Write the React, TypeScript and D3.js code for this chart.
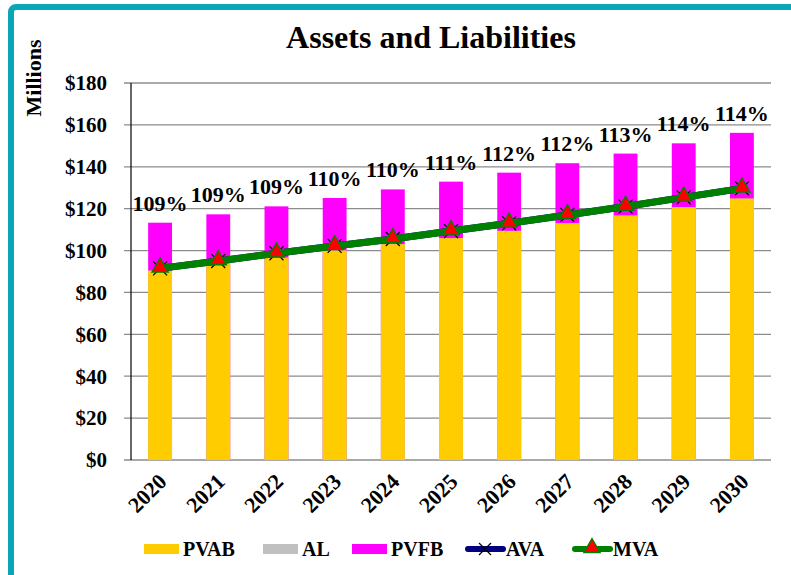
import React from 'react';
import * as d3 from 'd3';

const years = ['2020', '2021', '2022', '2023', '2024', '2025', '2026', '2027', '2028', '2029', '2030'];
const pvab = [90.4, 93.9, 96.6, 100.0, 103.0, 105.9, 109.4, 113.0, 116.7, 120.7, 124.8];
const al = [90.4, 93.9, 96.6, 100.0, 103.0, 105.9, 109.4, 113.0, 116.7, 120.7, 124.8];
const pvfb = [113.3, 117.3, 121.1, 125.1, 129.2, 132.9, 137.2, 141.7, 146.3, 151.2, 156.2];
const ava = [91.5, 95.0, 98.7, 102.2, 105.5, 109.3, 113.0, 117.0, 121.0, 125.4, 129.7];
const mva = [91.5, 95.0, 98.7, 102.2, 105.5, 109.3, 113.0, 117.0, 121.0, 125.4, 129.7];
const fundedLabels = ['109%', '109%', '109%', '110%', '110%', '111%', '112%', '112%', '113%', '114%', '114%'];
const yTicks = [0, 20, 40, 60, 80, 100, 120, 140, 160, 180];

const FONT = '"Liberation Serif", "DejaVu Serif", serif';
const C = { pvab: '#FFCC00', al: '#C0C0C0', pvfb: '#FF00FF', ava: '#000080', mva: '#008000', tri: '#FF0000' };
const T: React.CSSProperties = { fontFamily: FONT, fontWeight: 'bold' };

export default function App() {
  const left = 131, right = 771, top = 83, bottom = 460;
  const x = d3.scaleBand<string>().domain(years).range([left, right]).paddingInner(0.59).paddingOuter(0.295);
  const y = d3.scaleLinear().domain([0, 180]).range([bottom, top]);
  const cx = (i: number) => (x(years[i]) as number) + x.bandwidth() / 2;
  const line = d3.line<number>().x((_, i) => cx(i)).y((d) => y(d));
  const tri = d3.symbol().type(d3.symbolTriangle).size(115)() as string;

  const legend = [
    { kind: 'rect', color: C.pvab, label: 'PVAB', x: 144 },
    { kind: 'rect', color: C.al, label: 'AL', x: 263 },
    { kind: 'rect', color: C.pvfb, label: 'PVFB', x: 352 },
    { kind: 'ava', color: C.ava, label: 'AVA', x: 466 },
    { kind: 'mva', color: C.mva, label: 'MVA', x: 573 },
  ];
  const ly = 549;

  return (
    <svg width={791} height={575} style={{ position: 'fixed', left: 0, top: 0, background: '#fff', fontFamily: FONT }}>
      <rect x={0} y={0} width={791} height={575} fill="#fff" />
      <rect x={11} y={7} width={790} height={575} rx={5} fill="none" stroke="#0AA6B6" strokeWidth={6} />
      <text x={431} y={48} textAnchor="middle" fontSize={32} style={T}>Assets and Liabilities</text>
      <text transform="translate(41,78) rotate(-90)" textAnchor="middle" fontSize={22} style={T}>Millions</text>

      {yTicks.map((t) => (
        <g key={t}>
          <line x1={124} x2={right} y1={y(t)} y2={y(t)} stroke="#8C8C8C" strokeWidth={1.3} />
          <text x={107} y={y(t)} dy="0.35em" textAnchor="end" fontSize={21} style={T}>${t}</text>
        </g>
      ))}

      {years.map((yr, i) => (
        <g key={yr}>
          <rect x={x(yr)} y={y(pvfb[i])} width={x.bandwidth()} height={bottom - y(pvfb[i])} fill={C.pvfb} />
          <rect x={x(yr)} y={y(al[i])} width={x.bandwidth()} height={bottom - y(al[i])} fill={C.al} />
          <rect x={x(yr)} y={y(pvab[i])} width={x.bandwidth()} height={bottom - y(pvab[i])} fill={C.pvab} />
          <text x={cx(i)} y={y(pvfb[i]) - 12} textAnchor="middle" fontSize={22} style={T}>{fundedLabels[i]}</text>
          <text transform={`translate(${cx(i) + 8},483) rotate(-45)`} textAnchor="end" fontSize={22} style={T}>{yr}</text>
        </g>
      ))}

      <line x1={left} x2={left} y1={top} y2={bottom} stroke="#000" strokeWidth={1.2} />

      <path d={line(ava) as string} fill="none" stroke={C.ava} strokeWidth={7} />
      {ava.map((v, i) => (
        <path key={'x' + i} d={`M${cx(i) - 7},${y(v) - 7}L${cx(i) + 7},${y(v) + 7}M${cx(i) - 7},${y(v) + 7}L${cx(i) + 7},${y(v) - 7}`} stroke="#000" strokeWidth={1.2} />
      ))}
      <path d={line(mva) as string} fill="none" stroke={C.mva} strokeWidth={7} />
      {mva.map((v, i) => (
        <path key={'t' + i} d={tri} transform={`translate(${cx(i)},${y(v) - 1})`} fill={C.tri} stroke={C.mva} strokeWidth={1.3} />
      ))}

      {legend.map((l) => (
        <g key={l.label}>
          {l.kind === 'rect' ? (
            <rect x={l.x} y={ly - 5} width={35} height={10} fill={l.color} />
          ) : (
            <line x1={l.x + 2} x2={l.x + 37} y1={ly} y2={ly} stroke={l.color} strokeWidth={6} strokeLinecap="round" />
          )}
          {l.kind === 'ava' && (
            <path d={`M${l.x + 13},${ly - 6}L${l.x + 25},${ly + 6}M${l.x + 13},${ly + 6}L${l.x + 25},${ly - 6}`} stroke="#000" strokeWidth={1.2} />
          )}
          {l.kind === 'mva' && (
            <path d={tri} transform={`translate(${l.x + 19},${ly - 1})`} fill={C.tri} stroke={C.mva} strokeWidth={1.3} />
          )}
          <text x={l.x + (l.kind === 'rect' ? 39 : 40)} y={ly + 7} fontSize={20} style={T}>{l.label}</text>
        </g>
      ))}
    </svg>
  );
}
